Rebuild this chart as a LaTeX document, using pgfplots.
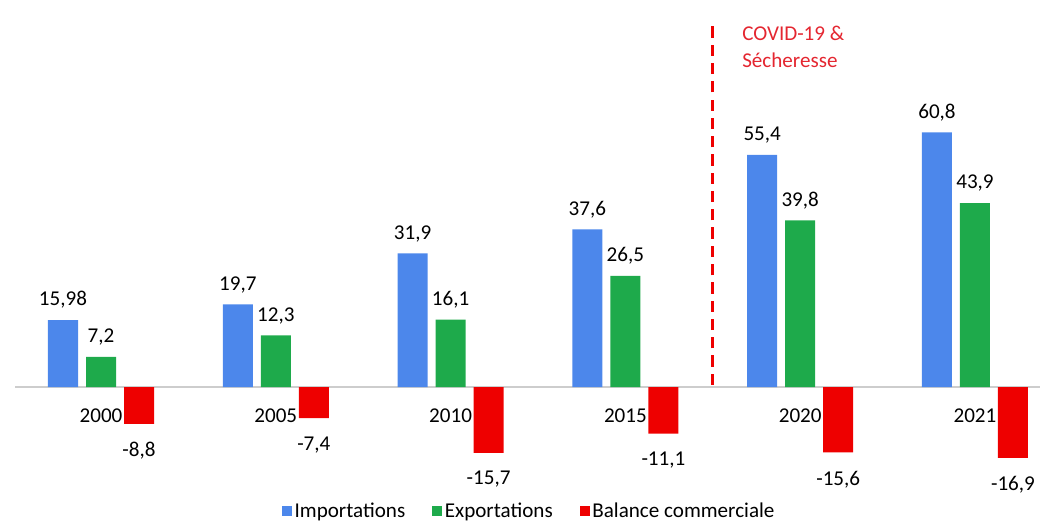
\documentclass[border=0pt]{standalone}
\usepackage{fontspec}
\setmainfont{Carlito}
\usepackage{pgfplots}
\usepackage{pgfplotstable}
\pgfplotsset{compat=1.18}
\definecolor{impblue}{RGB}{76,135,235}
\definecolor{expgreen}{RGB}{30,170,75}
\definecolor{balred}{RGB}{238,0,0}
\definecolor{notered}{RGB}{228,38,48}
\definecolor{axisgray}{RGB}{205,205,205}

\pgfplotstableread{
x  imp    limp   exp   lexp  bal    lbal
0  15.98  15,98  7.2   7,2   -8.8   -8,8
1  19.7   19,7   12.3  12,3  -7.4   -7,4
2  31.9   31,9   16.1  16,1  -15.7  -15,7
3  37.6   37,6   26.5  26,5  -11.1  -11,1
4  55.4   55,4   39.8  39,8  -15.6  -15,6
5  60.8   60,8   43.9  43,9  -16.9  -16,9
}\trade

\begin{document}
\begin{tikzpicture}
  \useasboundingbox (-0.375,-1.025) rectangle (25.875,12);
  \begin{axis}[
    at={(0,0)}, anchor=south west,
    scale only axis,
    width=25.625cm, height=11.75cm,
    xmin=-0.492, xmax=5.372,
    ymin=-22.2, ymax=90,
    ybar=0.2cm,
    bar width=0.75cm,
    axis x line=middle,
    axis y line=none,
    axis line style={draw=axisgray, line width=1pt, -},
    xtick=data,
    xticklabels={2000,2005,2010,2015,2020,2021},
    major tick length=0pt,
    xticklabel style={font=\fontsize{15}{18}\selectfont, yshift=-0.42cm},
    point meta=explicit symbolic,
    nodes near coords,
    every node near coord/.append style={font=\fontsize{15}{18}\selectfont,
      color=black, inner ysep=8pt},
    legend columns=3,
    legend style={at={(axis description cs:0.502,0)}, anchor=center,
      yshift=-0.78cm, draw=none, fill=none,
      font=\fontsize{15}{18}\selectfont, inner sep=1pt},
    legend image code/.code={\fill[#1] (0cm,-0.12cm) rectangle (0.25cm,0.13cm);},
    clip=false,
  ]
    \addplot[fill=impblue, draw=none] table[x=x, y=imp, meta=limp] {\trade};
    \addplot[fill=expgreen, draw=none] table[x=x, y=exp, meta=lexp] {\trade};
    \addplot[fill=balred, draw=none,
      every node near coord/.append style={anchor=north, inner ysep=13pt}]
      table[x=x, y=bal, meta=lbal] {\trade};
    \addlegendentry{Importations\rule{0.6cm}{0pt}}
    \addlegendentry{Exportations\rule{0.6cm}{0pt}}
    \addlegendentry{Balance commerciale}

    \draw[balred, line width=2.2pt, dash pattern=on 8pt off 5pt]
      (axis cs:3.5,0.5) -- (axis cs:3.5,86.5);
    \node[anchor=north west, align=left, text=notered,
      font=\fontsize{15}{19}\selectfont, inner sep=0pt]
      at (axis cs:3.667,86.2) {COVID-19 \&\\Sécheresse};
  \end{axis}
\end{tikzpicture}
\end{document}
